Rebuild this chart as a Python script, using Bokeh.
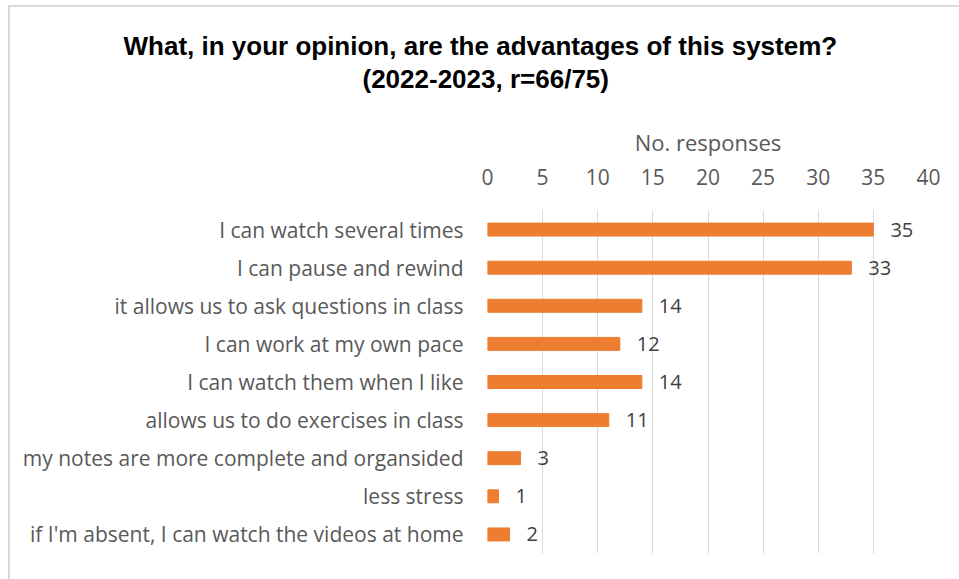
from bokeh.plotting import figure
from bokeh.models import FactorRange, Range1d, ColumnDataSource, FixedTicker, Title
from bokeh.core.properties import value
from bokeh.embed import file_html
from bokeh.resources import INLINE

# Survey answers, top to bottom
categories = [
    "I can watch several times",
    "I can pause and rewind",
    "it allows us to ask questions in class",
    "I can work at my own pace",
    "I can watch them when I like",
    "allows us to do exercises in class",
    "my notes are more complete and organsided",
    "less stress",
    "if I'm absent, I can watch the videos at home",
]
responses = [35, 33, 14, 12, 14, 11, 3, 1, 2]
x_ticks = [0, 5, 10, 15, 20, 25, 30, 35, 40]

title_lines = ["What, in your opinion, are the advantages of this system?",
               "(2022-2023, r=66/75)"]

BAR = "#ED7D31"
GRID = "#D9D9D9"
LABEL = "#595959"
VALUE = "#404040"
FONT = "Open Sans"

source = ColumnDataSource(dict(cat=categories, n=responses, txt=[str(v) for v in responses]))

p = figure(
    width=959, height=579,
    y_range=FactorRange(factors=categories[::-1], range_padding=0),
    x_range=Range1d(0, 40),
    x_axis_location="above",
    output_backend="svg", toolbar_location=None,
    min_border_left=487, min_border_right=31,
    min_border_top=210, min_border_bottom=26,
)
p.title = None
p.outline_line_color = None
p.background_fill_color = "white"
# transparent surround so the chart-area edge drawn by CSS shows through
p.border_fill_color = None
p.styles = {
    "background": (
        "linear-gradient(#D9D9D9, #D9D9D9) 8px 5px / 951px 2px no-repeat, "
        "linear-gradient(#D9D9D9, #D9D9D9) 8px 5px / 2px 574px no-repeat, white"
    )
}

p.hbar(y="cat", right="n", left=0, height=0.34, source=source,
       fill_color=BAR, line_color=BAR, line_width=1)

p.text(x="n", y="cat", text="txt", source=source,
       x_offset=17, text_baseline="middle", text_align="left",
       text_font=value(FONT), text_font_size="20px", text_color=VALUE)

# value axis on top
xa = p.xaxis[0]
xa.ticker = FixedTicker(ticks=x_ticks)
xa.axis_line_color = None
xa.major_tick_line_color = None
xa.minor_tick_line_color = None
xa.major_label_standoff = 20
xa.major_label_text_font = FONT
xa.major_label_text_font_size = "21px"
xa.major_label_text_color = LABEL
xa.axis_label = "No. responses"
xa.axis_label_text_font = FONT
xa.axis_label_text_font_size = "22px"
xa.axis_label_text_font_style = "normal"
xa.axis_label_text_color = LABEL
xa.axis_label_standoff = 9

# category axis
ya = p.yaxis[0]
ya.axis_line_color = None
ya.major_tick_line_color = None
ya.minor_tick_line_color = None
ya.major_label_standoff = 18
ya.major_label_text_font = FONT
ya.major_label_text_font_size = "21px"
ya.major_label_text_color = LABEL

p.xgrid.ticker = FixedTicker(ticks=x_ticks)
p.xgrid.grid_line_color = GRID
p.xgrid.grid_line_width = 1
p.ygrid.grid_line_color = None

# blank gap between the axis title and the heading
p.add_layout(Title(text=" ", text_font_size="1px", standoff=26), "above")

# two-line bold heading, second line nearest the axis
offsets = [-364, -125]
standoffs = [0, 2]
for line, off, so in reversed(list(zip(title_lines, offsets, standoffs))):
    p.add_layout(Title(
        text=line, align="left", offset=off, standoff=so,
        text_font="Liberation Sans", text_font_style="bold",
        text_font_size="26px", text_color="black",
    ), "above")

open("out.html", "w").write(file_html(p, INLINE))
